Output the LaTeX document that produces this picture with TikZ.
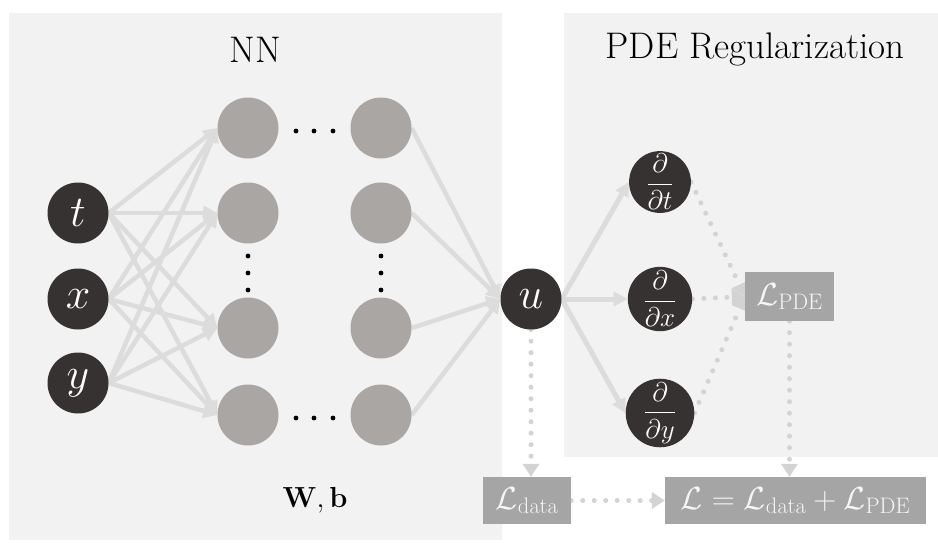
\RequirePackage{fix-cm}
\documentclass[tikz,border=0pt]{standalone}
\usepackage{amsmath}
\usetikzlibrary{arrows.meta}
\pgfdeclarelayer{back}
\pgfdeclarelayer{links}
\pgfsetlayers{back,links,main}
\definecolor{panel}{HTML}{F2F2F2}
\definecolor{inknode}{HTML}{363231}
\definecolor{hidnode}{HTML}{A9A6A4}
\definecolor{wire}{HTML}{DCDCDC}
\definecolor{dotwire}{HTML}{D3D3D3}
\definecolor{lossbox}{HTML}{A5A5A5}
\definecolor{losstext}{HTML}{F6F6F6}
\begin{document}
\begin{tikzpicture}[x=1pt,y=-1pt,
  io/.style={circle, fill=inknode, text=white, minimum size=61pt, inner sep=0pt,
    font=\fontsize{44}{44}\selectfont},
  deriv/.style={io, font=\fontsize{27}{27}\selectfont},
  hid/.style={circle, fill=hidnode, minimum size=61pt, inner sep=0pt},
  loss/.style={fill=lossbox, text=losstext, minimum height=47pt, inner xsep=0pt,
    inner ysep=0pt, font=\fontsize{32}{32}\selectfont},
  wirearrow/.style={draw=wire, line width=4.5pt, -{Triangle[length=14pt,width=14pt]}},
  thickwire/.style={wirearrow, line width=5pt},
  dotarrow/.style={draw=dotwire, line width=5pt, line cap=round,
    dash pattern=on 0pt off 11.5pt, -{Triangle[length=13pt,width=16pt]}},
  title/.style={font=\fontsize{37}{37}\selectfont, anchor=base},
  dot/.style={fill=black}
]
\useasboundingbox (0,0) rectangle (938,542);

% panels
\begin{pgfonlayer}{back}
  \fill[panel] (9,13) rectangle (502,540);
  \fill[panel] (564,13) rectangle (938,457);
\end{pgfonlayer}

\node[title] (nntitle) at (255,62) {NN};
\node[title] (pdetitle) at (755,58) {PDE Regularization};
\node[font=\fontsize{29}{29}\selectfont, anchor=base] (wb) at (315,507) {$\mathbf{W},\mathbf{b}$};

% inputs
\node[io] (t) at (78,213) {$t$};
\node[io] (x) at (78,299) {$x$};
\node[io] (y) at (78,383) {$y$};

% hidden layers
\foreach \r/\yy in {1/128, 2/213, 3/328, 4/415} {
  \node[hid] (a\r) at (248,\yy) {};
  \node[hid] (b\r) at (381,\yy) {};
}

% ellipsis dots
\foreach \xx in {296,314,333} {
  \fill[dot] (\xx,131) circle (2.4pt);
  \fill[dot] (\xx,418) circle (2.4pt);
}
\foreach \yy in {256,273,290} {
  \fill[dot] (248,\yy) circle (2.4pt);
  \fill[dot] (381,\yy) circle (2.4pt);
}

% output and derivatives
\node[io] (u) at (531,299) {$u$};
\node[deriv] (dt) at (660,182) {$\dfrac{\partial}{\partial t}$};
\node[deriv] (dx) at (660,299) {$\dfrac{\partial}{\partial x}$};
\node[deriv] (dy) at (660,413) {$\dfrac{\partial}{\partial y}$};

% losses
\node[loss, minimum width=89pt, minimum height=49pt] (Lpde) at (789.5,296.5) {$\mathcal{L}_{\mathrm{PDE}}$};
\node[loss, minimum width=88pt] (Ldata) at (527,500.5) {$\mathcal{L}_{\mathrm{data}}$};
\node[loss, minimum width=261pt] (Ltot) at (795.5,500.5) {$\mathcal{L}=\mathcal{L}_{\mathrm{data}}+\mathcal{L}_{\mathrm{PDE}}$};

\begin{pgfonlayer}{links}
  \foreach \i in {t,x,y} {
    \foreach \r in {1,2,3,4} {
      \draw[wirearrow] (\i.east) -- (a\r.west);
    }
  }
  \foreach \r in {1,2,3,4} {
    \draw[wirearrow] (b\r.east) -- (u.west);
  }
  \draw[thickwire] (u.east) -- (dt.west);
  \draw[thickwire] (u.east) -- (dx.west);
  \draw[thickwire] (u.east) -- (dy.west);

  \draw[dotarrow] (dt.east) -- (Lpde.west);
  \draw[dotarrow] (dx.east) -- (Lpde.west);
  \draw[dotarrow] (dy.east) -- (Lpde.west);
  \draw[dotarrow] (u.south) -- (u.south |- Ldata.north);
  \draw[dotarrow] (Lpde.south) -- (Lpde.south |- Ltot.north);
  \draw[dotarrow] (Ldata.east) -- (Ltot.west);
\end{pgfonlayer}
\end{tikzpicture}
\end{document}
